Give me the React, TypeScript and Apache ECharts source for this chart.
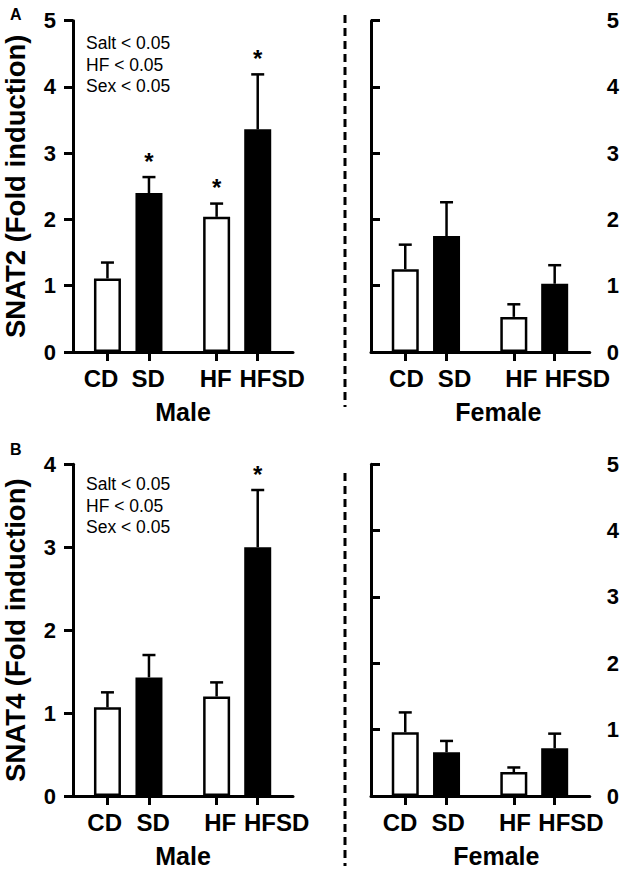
import React, { useEffect, useRef } from "react";
import * as echarts from "echarts";

// ---- data ----
const categories = ["CD", "SD", "HF", "HFSD"];
const saltDiet = [false, true, false, true];

const snat2Male = [1.11, 2.4, 2.04, 3.36];
const snat2MaleErr = [0.24, 0.24, 0.2, 0.83];
const snat2MaleSig = [false, true, true, true];

const snat2Female = [1.25, 1.75, 0.53, 1.03];
const snat2FemaleErr = [0.37, 0.51, 0.19, 0.28];
const snat2FemaleSig = [false, false, false, false];

const snat4Male = [1.07, 1.43, 1.2, 3.0];
const snat4MaleErr = [0.18, 0.27, 0.17, 0.69];
const snat4MaleSig = [false, false, false, true];

const snat4Female = [0.96, 0.66, 0.36, 0.72];
const snat4FemaleErr = [0.3, 0.17, 0.07, 0.22];
const snat4FemaleSig = [false, false, false, false];

const statsLines = ["Salt < 0.05", "HF < 0.05", "Sex < 0.05"];

// ---- layout ----
const FONT = "'Liberation Sans', Arial, Helvetica, sans-serif";
const xPos = [0.83, 1.83, 3.46, 4.45];
// label anchor positions (axis units) for each panel, as placed in the original figure
const labelPos = [
  [0.674, 1.81, 3.44, 4.798],
  [0.857, 2.024, 3.643, 5.0],
  [0.762, 1.929, 3.548, 4.905],
  [0.702, 1.869, 3.488, 4.845],
];
const XMAX = 5.3;
const AXIS_W = 3;

export default function App() {
  const ref = useRef<HTMLDivElement>(null);
  useEffect(() => {
    if (!ref.current) return;
    const chart = echarts.init(ref.current, null, { renderer: "svg" });

    const grids = [
      { left: 70, top: 20.7, width: 223, height: 331.3 },
      { left: 371, top: 20.7, width: 222, height: 331.3 },
      { left: 70, top: 464.3, width: 223, height: 333 },
      { left: 371, top: 464.3, width: 222, height: 332.5 },
    ];

    const lineStyle = { color: "#000", width: AXIS_W };

    const xAxisFor = (gridIndex: number, name: string, shift: number) => {
      const lp = labelPos[gridIndex];
      return {
        type: "value",
        gridIndex,
        min: 0,
        max: XMAX,
        axisLine: { show: true, onZero: false, lineStyle },
        axisTick: { show: true, customValues: xPos, length: 9, lineStyle },
        axisLabel: {
          customValues: lp,
          hideOverlap: false,
          showMinLabel: true,
          showMaxLabel: true,
          formatter: (v: number) => {
            const i = lp.findIndex((p) => Math.abs(p - v) < 1e-6);
            return i >= 0 ? categories[i] : "";
          },
          margin: 14,
          color: "#000",
          fontSize: 24,
          fontWeight: "bold",
          fontFamily: FONT,
        },
        splitLine: { show: false },
        name,
        nameLocation: "middle",
        nameGap: 47,
        nameTextStyle: {
          color: "#000",
          fontSize: 25,
          fontWeight: "bold",
          fontFamily: FONT,
          padding: shift > 0 ? [0, 0, 0, shift * 2] : 0,
        },
      };
    };

    const yAxisFor = (gridIndex: number, max: number, right: boolean, name: string) => ({
      type: "value",
      gridIndex,
      min: 0,
      max,
      interval: 1,
      position: right ? "right" : "left",
      axisLine: { show: true, lineStyle },
      axisTick: { show: true, length: 9, lineStyle },
      axisLabel: {
        margin: 17,
        color: "#000",
        fontSize: 22,
        fontWeight: "bold",
        fontFamily: FONT,
      },
      splitLine: { show: false },
      name,
      nameLocation: "middle",
      nameGap: 44,
      nameTextStyle: {
        color: "#000",
        fontSize: 27.5,
        fontWeight: "bold",
        fontFamily: FONT,
      },
    });

    const barSeries = (idx: number, vals: number[]) => ({
      type: "bar",
      xAxisIndex: idx,
      yAxisIndex: idx,
      barWidth: 27,
      z: 2,
      data: vals.map((v, i) => ({
        value: [xPos[i], v],
        itemStyle: {
          color: saltDiet[i] ? "#000" : "#fff",
          borderColor: "#000",
          borderWidth: 2.5,
        },
      })),
    });

    const errSeries = (idx: number, vals: number[], errs: number[], sig: boolean[]) => ({
      type: "custom",
      xAxisIndex: idx,
      yAxisIndex: idx,
      z: 5,
      clip: false,
      data: vals.map((v, i) => [xPos[i], v, errs[i], sig[i] ? 1 : 0]),
      renderItem: (params: any, api: any) => {
        const x = api.value(0);
        const y = api.value(1);
        const e = api.value(2);
        const s = api.value(3);
        const base = api.coord([x, y]);
        const top = api.coord([x, y + e]);
        const style = { stroke: "#000", lineWidth: 2.5 };
        const children: any[] = [
          { type: "line", shape: { x1: base[0], y1: base[1], x2: top[0], y2: top[1] }, style },
          { type: "line", shape: { x1: top[0] - 6.5, y1: top[1], x2: top[0] + 6.5, y2: top[1] }, style },
        ];
        if (s) {
          children.push({
            type: "text",
            x: top[0],
            y: top[1] - 4,
            style: {
              text: "*",
              fill: "#000",
              font: `bold 24px ${FONT}`,
              align: "center",
              verticalAlign: "bottom",
            },
          });
        }
        return { type: "group", children };
      },
    });

    const statsGraphic = (top: number) =>
      statsLines.map((t, i) => ({
        type: "text",
        left: 86,
        top: top + i * 21.5,
        style: { text: t, fill: "#000", font: `17.5px ${FONT}` },
      }));

    const option: any = {
      animation: false,
      backgroundColor: "#fff",
      grid: grids,
      xAxis: [
        xAxisFor(0, "Male", 0),
        xAxisFor(1, "Female", 18),
        xAxisFor(2, "Male", 0),
        xAxisFor(3, "Female", 16),
      ],
      yAxis: [
        yAxisFor(0, 5, false, "SNAT2 (Fold induction)"),
        yAxisFor(1, 5, true, ""),
        yAxisFor(2, 4, false, "SNAT4 (Fold induction)"),
        yAxisFor(3, 5, true, ""),
      ],
      series: [
        barSeries(0, snat2Male),
        errSeries(0, snat2Male, snat2MaleErr, snat2MaleSig),
        barSeries(1, snat2Female),
        errSeries(1, snat2Female, snat2FemaleErr, snat2FemaleSig),
        barSeries(2, snat4Male),
        errSeries(2, snat4Male, snat4MaleErr, snat4MaleSig),
        barSeries(3, snat4Female),
        errSeries(3, snat4Female, snat4FemaleErr, snat4FemaleSig),
      ],
      graphic: [
        {
          type: "line",
          shape: { x1: 345, y1: 15, x2: 345, y2: 407 },
          style: { stroke: "#000", lineWidth: 3, lineDash: [8, 5] },
        },
        {
          type: "line",
          shape: { x1: 345, y1: 473, x2: 345, y2: 866 },
          style: { stroke: "#000", lineWidth: 3, lineDash: [8, 5] },
        },
        {
          type: "text",
          left: 10,
          top: 6,
          style: { text: "A", fill: "#000", font: `bold 16px ${FONT}` },
        },
        {
          type: "text",
          left: 10,
          top: 441,
          style: { text: "B", fill: "#000", font: `bold 16px ${FONT}` },
        },
        ...statsGraphic(34),
        ...statsGraphic(475),
      ],
    };

    chart.setOption(option);
    return () => chart.dispose();
  }, []);

  return (
    <div
      ref={ref}
      style={{ position: "absolute", left: 0, top: 0, width: 622, height: 869 }}
    />
  );
}
